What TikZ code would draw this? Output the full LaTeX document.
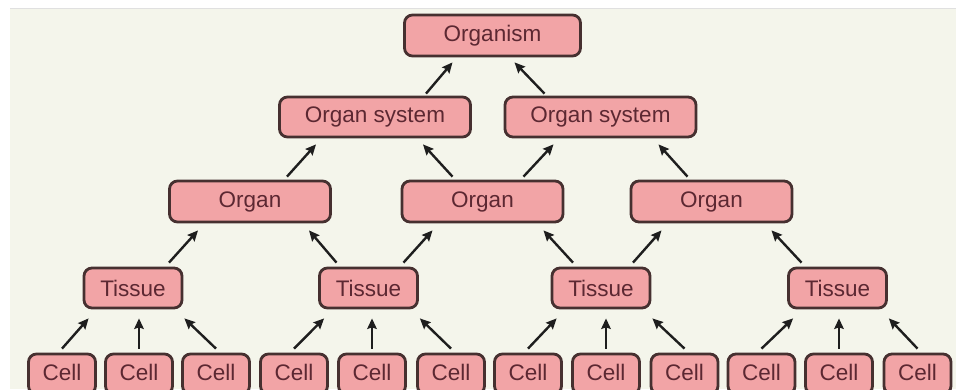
\documentclass[tikz,border=0pt]{standalone}
\usepackage{fontspec}
\setmainfont{Liberation Sans}
\usetikzlibrary{arrows.meta,calc}
\definecolor{bgcream}{RGB}{244,245,235}
\definecolor{boxpink}{RGB}{242,164,166}
\definecolor{boxline}{RGB}{70,48,48}
\definecolor{boxtext}{RGB}{92,40,50}
\definecolor{arrowcol}{RGB}{30,30,30}
\begin{document}
\begin{tikzpicture}[x=1pt,y=-1pt,
  box/.style={draw=boxline, fill=boxpink, line width=2.8pt, rounded corners=8pt,
    text=boxtext, font=\fontsize{22.5}{26}\selectfont, inner sep=0pt, minimum height=40pt},
  cellbox/.style={box, minimum width=67pt},
  tissuebox/.style={box, minimum width=98pt},
  organbox/.style={box, minimum width=161pt, minimum height=41pt},
  sysbox/.style={box, minimum width=191pt},
  arr/.style={draw=arrowcol, line width=2.4pt, -{Stealth[length=10.5pt,width=9.5pt,inset=1.5pt]}}]
\useasboundingbox (0,0) rectangle (956,389);
\fill[white] (0,0) rectangle (956,389);
\fill[bgcream] (10,8) rectangle (956,389);
\draw[black!12, line width=0.8pt] (10,8.5) -- (956,8.5);

% top
\node[box, minimum width=176pt, minimum height=41pt] (top) at (492.5,35.5) {Organism};
% organ systems
\node[sysbox] (s1) at (375,117) {Organ system};
\node[sysbox] (s2) at (600.5,117) {Organ system};
% organs
\node[organbox] (o1) at (250,201.5) {Organ};
\node[organbox] (o2) at (482.5,201.5) {Organ};
\node[organbox] (o3) at (711.5,201.5) {Organ};
% tissues
\node[tissuebox] (t1) at (133,288) {Tissue};
\node[tissuebox] (t2) at (368.5,288) {Tissue};
\node[tissuebox] (t3) at (601,288) {Tissue};
\node[tissuebox] (t4) at (837.5,288) {Tissue};
% cells
\node[cellbox] (c1) at (62,374) {\raisebox{4pt}{Cell}};
\node[cellbox] (c2) at (139,374) {\raisebox{4pt}{Cell}};
\node[cellbox] (c3) at (216,374) {\raisebox{4pt}{Cell}};
\node[cellbox] (c4) at (294,374) {\raisebox{4pt}{Cell}};
\node[cellbox] (c5) at (372,374) {\raisebox{4pt}{Cell}};
\node[cellbox] (c6) at (451,374) {\raisebox{4pt}{Cell}};
\node[cellbox] (c7) at (528,374) {\raisebox{4pt}{Cell}};
\node[cellbox] (c8) at (606,374) {\raisebox{4pt}{Cell}};
\node[cellbox] (c9) at (684.5,374) {\raisebox{4pt}{Cell}};
\node[cellbox] (c10) at (761.5,374) {\raisebox{4pt}{Cell}};
\node[cellbox] (c11) at (839,374) {\raisebox{4pt}{Cell}};
\node[cellbox] (c12) at (917.5,374) {\raisebox{4pt}{Cell}};

% cells -> tissues
\foreach \t/\a/\b/\c in {t1/c1/c2/c3, t2/c4/c5/c6, t3/c7/c8/c9, t4/c10/c11/c12}{
  \draw[arr] ([yshift=4pt]\a.north) -- ([xshift=6pt,yshift=-9pt]\t.south west);
  \draw[arr] ([yshift=4pt]\b.north) -- ($(\b.north |- \t.south)+(0,-9pt)$);
  \draw[arr] ([yshift=4pt]\c.north) -- ([xshift=1pt,yshift=-9pt]\t.south east);
}

% tissues -> organs
\draw[arr] ([xshift=36pt,yshift=4pt]t1.north) -- ([xshift=-52pt,yshift=-7pt]o1.south);
\draw[arr] ([xshift=-32pt,yshift=4pt]t2.north) -- ([xshift=59pt,yshift=-7pt]o1.south);
\draw[arr] ([xshift=35pt,yshift=4pt]t2.north) -- ([xshift=-50pt,yshift=-7pt]o2.south);
\draw[arr] ([xshift=-28pt,yshift=4pt]t3.north) -- ([xshift=61pt,yshift=-7pt]o2.south);
\draw[arr] ([xshift=32pt,yshift=4pt]t3.north) -- ([xshift=-50pt,yshift=-7pt]o3.south);
\draw[arr] ([xshift=-36pt,yshift=4pt]t4.north) -- ([xshift=60pt,yshift=-7pt]o3.south);

% organs -> organ systems
\draw[arr] ([xshift=37pt,yshift=3pt]o1.north) -- ([xshift=-59pt,yshift=-6pt]s1.south);
\draw[arr] ([xshift=-30pt,yshift=3pt]o2.north) -- ([xshift=48pt,yshift=-6pt]s1.south);
\draw[arr] ([xshift=41pt,yshift=3pt]o2.north) -- ([xshift=-47pt,yshift=-6pt]s2.south);
\draw[arr] ([xshift=-24pt,yshift=3pt]o3.north) -- ([xshift=58pt,yshift=-6pt]s2.south);

% organ systems -> organism
\draw[arr] ([xshift=51pt,yshift=2pt]s1.north) -- ([xshift=-40pt,yshift=-5pt]top.south);
\draw[arr] ([xshift=-56pt,yshift=2pt]s2.north) -- ([xshift=22pt,yshift=-5pt]top.south);
\end{tikzpicture}
\end{document}
